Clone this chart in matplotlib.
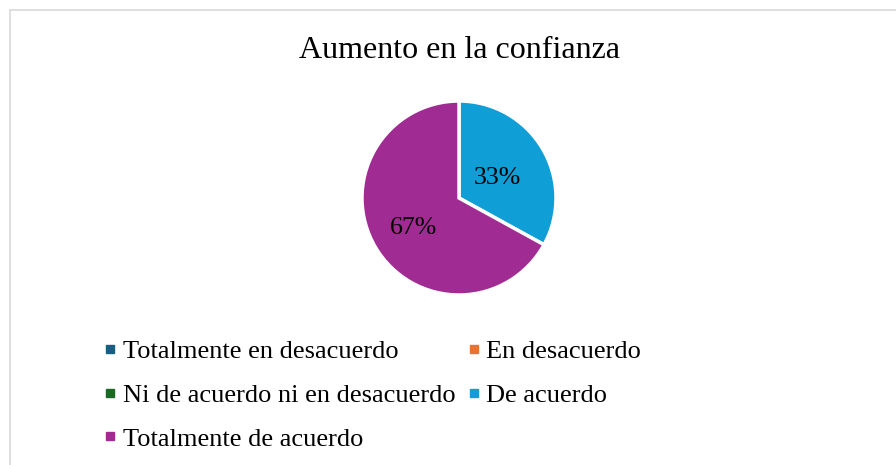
import matplotlib.pyplot as plt
from matplotlib.patches import Rectangle
from matplotlib.lines import Line2D

plt.rcParams['font.family'] = ['Liberation Serif', 'DejaVu Serif']

# data
title = 'Aumento en la confianza'
categories = ['Totalmente en desacuerdo', 'En desacuerdo',
              'Ni de acuerdo ni en desacuerdo', 'De acuerdo',
              'Totalmente de acuerdo']
values = [0, 0, 0, 33, 67]
colors = ['#156082', '#e97132', '#196b24', '#0f9ed5', '#a02b93']

W, H = 896, 465
fig = plt.figure(figsize=(W / 100, H / 100), dpi=100)

# chart border (cut off at right and bottom like the reference)
fig.patches.append(Rectangle((10 / W, -0.1), 1.2, (H - 10) / H + 0.1,
                             transform=fig.transFigure, fill=False,
                             edgecolor='#d9d9d9', linewidth=1.2))

fig.text(459 / W, 1 - 50 / H, title, ha='center', va='center', fontsize=23)

# pie axes: center (459, 198), radius ~96 px
r = 97
ax = fig.add_axes([(459 - r) / W, 1 - (198 + r) / H, 2 * r / W, 2 * r / H])
shown = [(v, c) for v, c in zip(values, colors) if v > 0]
wedges, texts, autotexts = ax.pie(
    [v for v, c in shown], colors=[c for v, c in shown],
    startangle=90, counterclock=False,
    autopct=lambda p: '%d%%' % round(p), pctdistance=0.5,
    wedgeprops=dict(edgecolor='white', linewidth=2.5),
    textprops=dict(fontsize=18.5, color='black'))
# Excel puts the labels at slightly different radii
for t, k in zip(autotexts, [0.92, 1.1]):
    x, y = t.get_position()
    t.set_position((x * k, y * k))
    t.set_va('center_baseline')
ax.set_aspect('equal')
ax.set_xlim(-1, 1)
ax.set_ylim(-1, 1)

handles = [Line2D([], [], marker='s', linestyle='none', markersize=6,
                  markerfacecolor=c, markeredgecolor=c) for c in colors]
order = [0, 2, 4, 1, 3]
fig.legend([handles[i] for i in order], [categories[i] for i in order],
           ncol=2, loc='upper left', bbox_to_anchor=(93 / W, 1 - 329 / H),
           frameon=False, fontsize=19, handlelength=0.5, handletextpad=0.22,
           columnspacing=0.45, labelspacing=0.77, borderaxespad=0)

fig.savefig('out.png', dpi=100)
